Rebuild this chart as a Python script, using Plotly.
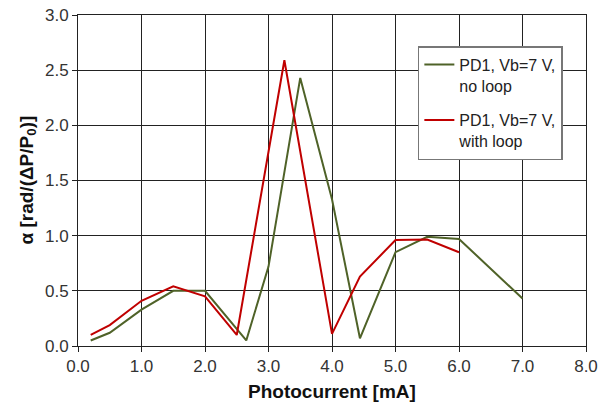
import plotly.graph_objects as go

# Data
x_noloop = [0.2, 0.5, 1.0, 1.5, 2.0, 2.65, 3.0, 3.5, 4.0, 4.44, 5.0, 5.5, 6.0, 7.0]
y_noloop = [0.05, 0.12, 0.33, 0.50, 0.50, 0.05, 0.72, 2.43, 1.33, 0.07, 0.85, 0.99, 0.97, 0.43]

x_loop = [0.2, 0.5, 1.0, 1.5, 2.0, 2.5, 3.25, 4.0, 4.44, 5.0, 5.5, 6.0]
y_loop = [0.10, 0.19, 0.41, 0.54, 0.45, 0.10, 2.59, 0.11, 0.63, 0.96, 0.965, 0.85]

name_noloop = "PD1, Vb=7 V,<br>no loop"
name_loop = "PD1, Vb=7 V,<br>with loop"

x_title = "<b>Photocurrent [mA]</b>"
y_title = "<b>α [rad/(ΔP/P<sub>0</sub>)]</b>"

x_ticks = [0, 1, 2, 3, 4, 5, 6, 7, 8]
y_ticks = [0, 0.5, 1.0, 1.5, 2.0, 2.5, 3.0]

fig = go.Figure()
fig.add_trace(go.Scatter(x=x_noloop, y=y_noloop, mode="lines", name=name_noloop,
                         legendgroup="a", line=dict(color="#4f6228", width=2)))
fig.add_trace(go.Scatter(x=x_loop, y=y_loop, mode="lines", name=name_loop,
                         legendgroup="b", line=dict(color="#c00000", width=2)))

font_family = "Liberation Sans, Arial, sans-serif"

fig.update_layout(
    width=601, height=405,
    margin=dict(l=78, r=15, t=15, b=59, autoexpand=False),
    paper_bgcolor="white", plot_bgcolor="white",
    font=dict(family=font_family, size=16, color="#222"),
    showlegend=True,
    legend=dict(
        x=0.669, y=0.906, xanchor="left", yanchor="top",
        bgcolor="white", bordercolor="#777", borderwidth=1.5,
        font=dict(size=16, color="#222"),
        traceorder="grouped", tracegroupgap=11,
        valign="top", itemwidth=30,
    ),
    xaxis=dict(
        range=[0, 8], tickvals=x_ticks, tickformat=".1f",
        showgrid=True, gridcolor="#222", gridwidth=1,
        showline=True, linecolor="#222", linewidth=1, mirror=True,
        ticks="outside", ticklen=5, tickcolor="#222",
        zeroline=False, automargin=False,
        tickfont=dict(size=17, color="#333"),
    ),
    yaxis=dict(
        range=[0, 3], tickvals=y_ticks, tickformat=".1f",
        showgrid=True, gridcolor="#222", gridwidth=1,
        showline=True, linecolor="#222", linewidth=1, mirror=True,
        ticks="outside", ticklen=5, tickcolor="#222",
        zeroline=False, automargin=False,
        tickfont=dict(size=17, color="#333"),
    ),
    annotations=[
        dict(text=x_title, xref="paper", yref="paper", x=0.5, y=0,
             xanchor="center", yanchor="middle", yshift=-45, showarrow=False,
             font=dict(size=19, color="#111")),
        dict(text=y_title, xref="paper", yref="paper", x=0, y=0.5,
             xanchor="center", yanchor="middle", xshift=-51, textangle=-90,
             showarrow=False, font=dict(size=19, color="#111")),
    ],
)

fig.write_html("out.html", config={"displayModeBar": False},
               post_script="document.body.style.margin='0';")
